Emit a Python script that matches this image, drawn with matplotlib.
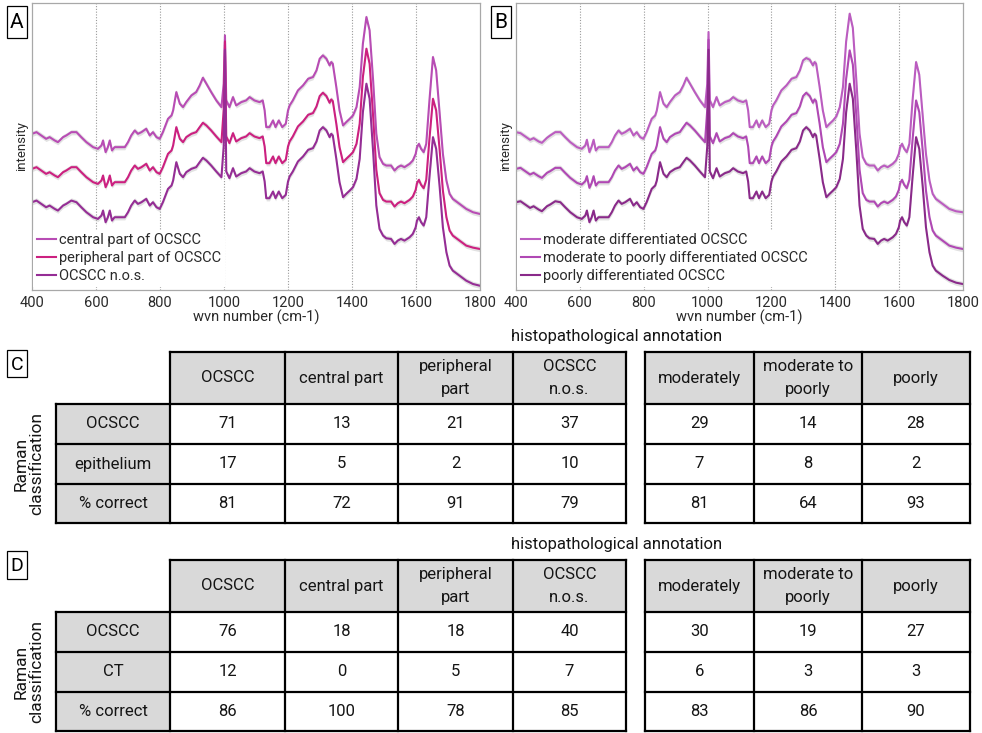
import matplotlib
matplotlib.use('Agg')
import matplotlib.pyplot as plt
from matplotlib.patches import Rectangle
import numpy as np

FONT = 'Roboto'
plt.rcParams['font.family'] = [FONT, 'DejaVu Sans']

# ---------------- data: spectra (wavenumber, arbitrary offset intensity) ----------------
wvn = [400,414,429,444,455,471,481,497,507,523,
       539,554,570,591,606,617,622,630,637,643,
       650,658,674,690,700,710,721,731,742,757,
       768,778,789,799,809,825,836,841,851,862,
       872,882,898,913,924,934,945,960,976,992,
       999,1003,1007,1017,1028,1038,1054,1069,1080,1095,
       1111,1121,1127,1132,1142,1153,1161,1171,1182,1193,
       1200,1205,1215,1231,1247,1263,1278,1289,1299,1309,
       1320,1330,1335,1340,1351,1361,1372,1382,1393,1403,
       1414,1424,1434,1445,1455,1466,1476,1486,1497,1507,
       1522,1533,1543,1553,1564,1580,1590,1599,1603,1609,
       1616,1624,1632,1642,1653,1663,1674,1684,1695,1705,
       1715,1736,1757,1778,1799]

central_part = [468,473,463,453,458,448,443,458,463,473,
                473,458,443,428,423,433,448,413,428,448,
                418,428,428,428,443,463,478,468,473,483,
                463,473,458,453,473,513,523,538,593,558,
                548,563,583,593,613,636,618,593,568,548,
                618,763,568,548,578,553,563,568,578,568,
                563,568,538,488,488,508,488,508,488,498,
                538,553,568,598,613,633,638,658,693,703,
                693,673,683,678,608,538,493,503,513,523,
                548,608,738,818,778,628,468,398,378,373,
                373,358,368,373,368,378,388,408,428,438,
                423,413,438,568,698,658,528,408,328,288,
                273,258,243,233,228]

peripheral_part = [363,368,358,348,353,343,338,353,358,368,
                   368,353,338,323,318,328,343,308,323,343,
                   313,323,323,323,338,358,373,363,368,378,
                   358,368,353,348,368,408,418,433,488,453,
                   443,458,468,473,488,501,493,478,460,443,
                   540,745,460,440,470,445,455,460,470,460,
                   455,460,430,380,380,400,380,400,380,390,
                   430,445,460,490,505,525,530,550,581,591,
                   581,561,571,566,498,428,383,393,403,413,
                   438,498,638,723,678,520,360,290,270,265,
                   265,250,260,265,260,270,280,300,320,330,
                   315,305,330,453,573,538,418,298,218,178,
                   163,148,133,127,123]

ocscc_nos = [263,268,258,248,253,243,238,253,258,268,
             263,248,233,218,213,223,238,203,218,238,
             208,218,218,218,233,253,268,258,263,273,
             253,263,248,243,263,303,313,328,383,348,
             338,353,363,368,383,396,388,373,355,338,
             430,720,355,335,365,340,350,355,365,355,
             350,355,325,275,275,295,275,295,275,285,
             325,340,355,385,400,420,425,445,478,488,
             478,458,468,463,393,323,278,288,298,308,
             333,393,533,618,573,415,253,183,163,155,
             153,138,148,153,148,158,168,188,208,218,
             203,193,218,338,458,423,308,188,113,73,
             58,43,28,18,13]

moderate_diff = [473,470,460,450,455,445,441,456,463,473,
                 473,458,443,428,423,433,450,413,430,450,
                 418,428,428,428,443,463,478,468,473,483,
                 463,473,458,453,473,513,523,538,593,558,
                 548,563,583,593,613,636,618,593,568,548,
                 618,773,568,548,578,553,563,568,578,568,
                 563,568,538,488,488,508,488,508,488,498,
                 538,553,568,598,613,633,638,658,688,695,
                 690,673,683,678,608,538,488,498,508,520,
                 548,608,745,828,785,628,468,398,378,373,
                 373,358,368,373,368,378,388,408,428,438,
                 423,413,438,568,683,645,520,408,328,288,
                 273,258,243,236,233]

moderate_to_poorly = [363,366,356,346,351,341,336,351,356,366,
                      366,351,336,321,316,326,341,306,321,341,
                      313,323,323,323,338,358,373,363,368,378,
                      358,368,353,348,368,408,418,433,488,453,
                      443,458,468,473,488,501,493,478,460,443,
                      540,750,460,440,470,445,455,460,470,460,
                      455,460,430,380,380,400,380,400,380,390,
                      430,445,460,490,505,525,530,550,581,591,
                      581,561,571,566,498,428,383,393,403,413,
                      438,498,633,718,675,520,360,290,270,265,
                      265,250,260,265,260,270,280,300,320,330,
                      315,305,330,450,568,533,415,298,218,178,
                      163,148,133,127,123]

poorly_diff = [263,266,256,246,251,241,236,251,256,266,
               263,248,233,218,213,223,238,203,218,238,
               208,218,218,218,233,253,268,258,263,273,
               253,263,248,243,263,303,313,328,383,348,
               338,353,363,368,383,396,388,373,355,338,
               430,720,355,335,365,340,350,355,365,355,
               350,355,325,275,275,295,275,295,275,285,
               325,340,355,385,400,420,425,445,478,488,
               478,458,468,463,393,323,278,288,298,308,
               333,393,533,618,573,415,253,183,163,155,
               153,138,148,153,148,158,168,188,208,218,
               203,193,218,338,458,423,308,188,113,73,
               58,43,30,22,18]

labels_A = ['central part of OCSCC', 'peripheral part of OCSCC', 'OCSCC n.o.s.']
labels_B = ['moderate differentiated OCSCC', 'moderate to poorly differentiated OCSCC',
            'poorly differentiated OCSCC']
xticks = [400, 600, 800, 1000, 1200, 1400, 1600, 1800]

# ---------------- data: tables ----------------
cols_left = ['OCSCC', 'central part', 'peripheral\npart', 'OCSCC\nn.o.s.']
cols_right = ['moderately', 'moderate to\npoorly', 'poorly']
rows_C = ['OCSCC', 'epithelium', '% correct']
C_left = [[71, 13, 21, 37], [17, 5, 2, 10], [81, 72, 91, 79]]
C_right = [[29, 14, 28], [7, 8, 2], [81, 64, 93]]
rows_D = ['OCSCC', 'CT', '% correct']
D_left = [[76, 18, 18, 40], [12, 0, 5, 7], [86, 100, 78, 85]]
D_right = [[30, 19, 27], [6, 3, 3], [83, 86, 90]]

# ---------------- figure ----------------
W, H = 982, 733
fig = plt.figure(figsize=(W / 100, H / 100), dpi=100)
bg = fig.add_axes([0, 0, 1, 1])
bg.set_xlim(0, W)
bg.set_ylim(H, 0)
bg.axis('off')


def spectra_panel(left, right, series, colors, labels):
    top, bottom = 3, 290
    ax = fig.add_axes([left / W, (H - bottom) / H, (right - left) / W, (bottom - top) / H])
    x = np.array(wvn)
    for xv in xticks[1:-1]:
        ax.axvline(xv, color='#9a9a9a', lw=0.8, ls=(0, (1, 1.5)), zorder=0)
    handles = []
    for ys, c, lab in zip(series, colors, labels):
        y = np.array(ys)
        ax.fill_between(x, y - 8, y + 8, color='#bfbfbf', alpha=0.45, lw=0, zorder=1)
        h, = ax.plot(x, y, color=c, lw=1.5, label=lab, zorder=2)
        handles.append(h)
    ax.set_xlim(400, 1800)
    ax.set_ylim(0, 860)
    ax.set_xticks(xticks)
    ax.set_yticks([])
    ax.tick_params(axis='x', length=0, pad=4, labelsize=10.5, labelcolor='#2a2a2a')
    for s in ax.spines.values():
        s.set_color('#a8a8a8')
        s.set_linewidth(0.9)
    ax.set_xlabel('wvn number (cm-1)', fontsize=10.5, color='#2a2a2a', labelpad=0)
    ax.set_ylabel('intensity', fontsize=9.5, color='#2a2a2a', labelpad=3)
    leg = ax.legend(handles=handles, loc='lower left', bbox_to_anchor=(0.0, 0.005),
                    frameon=True, framealpha=1, edgecolor='none', facecolor='white',
                    fancybox=False, borderpad=0.25, labelspacing=0.28, handlelength=1.3,
                    handletextpad=0.2, borderaxespad=0.1, fontsize=10.5)
    for t in leg.get_texts():
        t.set_color('#2a2a2a')
    return ax


spectra_panel(32, 480, [central_part, peripheral_part, ocscc_nos],
              ['#b84cb4', '#cc2080', '#952d95'], labels_A)
spectra_panel(516, 963, [moderate_diff, moderate_to_poorly, poorly_diff],
              ['#bb5cc0', '#b048b4', '#8a2a8a'], labels_B)


def letter_box(x0, y0, x1, y1, s, fs):
    bg.add_patch(Rectangle((x0, y0), x1 - x0, y1 - y0, fc='white', ec='black', lw=0.9))
    bg.text((x0 + x1) / 2, (y0 + y1) / 2 + 1, s, ha='center', va='center', fontsize=fs, color='black')


letter_box(7, 6, 27, 38, 'A', 15)
letter_box(491, 6, 511, 38, 'B', 15)
letter_box(7, 350, 27, 377, 'C', 14)
letter_box(7, 551, 27, 579, 'D', 14)

GRAY = '#d9d9d9'
LW = 1.6


def hline(y, x0, x1):
    bg.plot([x0, x1], [y, y], color='black', lw=LW, solid_capstyle='projecting')


def vline(x, y0, y1):
    bg.plot([x, x], [y0, y1], color='black', lw=LW, solid_capstyle='projecting')


def draw_table(ye, rows, lv, rv):
    xl = [56, 170, 285, 398, 513, 626]
    xr = [645, 754, 862, 970]
    bg.add_patch(Rectangle((xl[1], ye[0]), xl[-1] - xl[1], ye[1] - ye[0], fc=GRAY, ec='none'))
    bg.add_patch(Rectangle((xl[0], ye[1]), xl[1] - xl[0], ye[-1] - ye[1], fc=GRAY, ec='none'))
    bg.add_patch(Rectangle((xr[0], ye[0]), xr[-1] - xr[0], ye[1] - ye[0], fc=GRAY, ec='none'))
    hline(ye[0], xl[1], xl[-1])
    for y in ye[1:]:
        hline(y, xl[0], xl[-1])
    vline(xl[0], ye[1], ye[-1])
    for x in xl[1:]:
        vline(x, ye[0], ye[-1])
    for y in ye:
        hline(y, xr[0], xr[-1])
    for x in xr:
        vline(x, ye[0], ye[-1])
    fs = 12
    col = '#151515'
    hy = (ye[0] + ye[1]) / 2
    for i, c in enumerate(cols_left):
        bg.text((xl[i + 1] + xl[i + 2]) / 2, hy, c, ha='center', va='center', fontsize=fs,
                linespacing=1.65, color=col)
    for i, c in enumerate(cols_right):
        bg.text((xr[i] + xr[i + 1]) / 2, hy, c, ha='center', va='center', fontsize=fs,
                linespacing=1.65, color=col)
    for r, name in enumerate(rows):
        cy = (ye[r + 1] + ye[r + 2]) / 2
        bg.text((xl[0] + xl[1]) / 2, cy, name, ha='center', va='center', fontsize=fs, color=col)
        for i, v in enumerate(lv[r]):
            bg.text((xl[i + 1] + xl[i + 2]) / 2, cy, str(v), ha='center', va='center',
                    fontsize=fs, color=col)
        for i, v in enumerate(rv[r]):
            bg.text((xr[i] + xr[i + 1]) / 2, cy, str(v), ha='center', va='center',
                    fontsize=fs, color=col)
    bg.text(617, ye[0] - 16, 'histopathological annotation', ha='center', va='center',
            fontsize=12, color=col)
    bg.text(29, (ye[1] + ye[-1]) / 2, 'Raman\nclassification', ha='center', va='center',
            rotation=90, fontsize=12.5, linespacing=1.0, color=col)


draw_table([352, 404, 444, 484, 523], rows_C, C_left, C_right)
draw_table([560, 612, 652, 692, 731], rows_D, D_left, D_right)

fig.savefig('out.png', dpi=100)
